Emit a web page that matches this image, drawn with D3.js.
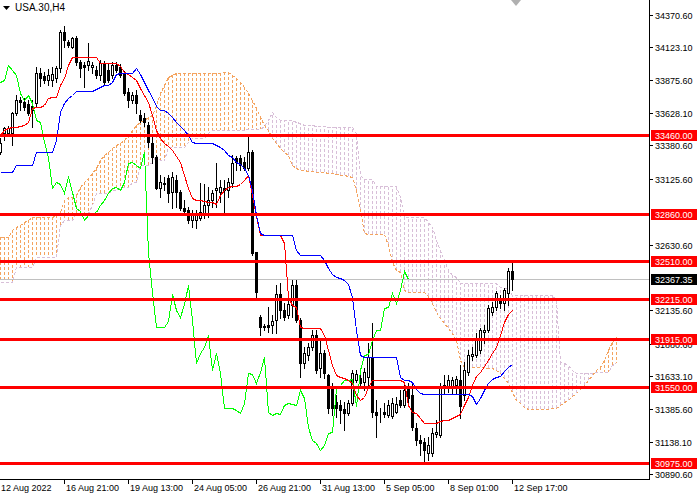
<!DOCTYPE html>
<html><head><meta charset="utf-8">
<script src="https://cdn.jsdelivr.net/npm/d3@7"></script>
<style>body{margin:0;background:#fff}svg{display:block}</style>
</head><body>
<svg id="c" width="700" height="500"></svg>
<script>
// ---------- DATA ----------
const symbolTitle = "USA.30,H4";
const dateLabels = ["12 Aug 2022","16 Aug 21:00","19 Aug 13:00","24 Aug 05:00","26 Aug 21:00","31 Aug 13:00","5 Sep 05:00","8 Sep 01:00","12 Sep 17:00"];
const dateLabelBars = [0,16,32,48,64,80,96,112,128];
const priceTicks = [34370.60,34123.10,33875.60,33628.10,33380.60,33125.60,32630.60,32135.60,31880.60,31633.10,31385.60,31138.10,30890.60];
const levels = [33460,32860,32510,32215,31915,31550,30975];
const lastPrice = 32367.35;

const open = [33332,33475,33475,33475,33626,33725,33710,33695,33680,33702,
33929,33907,33876,33876,33891,33967,34240,34164,34126,34194,
34013,33990,33990,33975,33952,33914,34005,33952,33914,33990,
33975,33929,33786,33725,33763,33611,33589,33536,33399,33294,
33059,33097,33135,33029,33119,33029,32907,32892,32817,32817,
32832,32854,32930,32968,33044,33029,33059,33044,33097,33286,
33286,33256,33210,33332,32574,32082,32014,32021,32021,32060,
32257,32135,32097,32173,32325,32060,31734,31795,31855,31946,
31696,31810,31643,31553,31439,31416,31386,31356,31431,31606,
31621,31591,31628,31780,31363,31356,31363,31341,31333,31363,
31454,31416,31545,31492,31242,31151,31136,31053,31053,31197,
31189,31545,31553,31560,31568,31606,31492,31666,31787,31795,
31833,31969,31984,32120,32158,32211,32188,32264,32431];
const high = [33437,33521,33529,33634,33763,33748,33740,33725,33725,33975,
33967,33937,33960,33975,33982,34255,34285,34179,34202,34209,
34028,34013,34156,34013,33982,34028,34020,34005,34013,34013,
33997,33945,33816,33786,33801,33649,33626,33559,33445,33309,
33157,33142,33157,33180,33157,33044,32968,32915,32892,32892,
33097,33089,33066,33044,33248,33119,33119,33135,33309,33301,
33309,33294,33453,33347,32574,32097,32029,32158,32097,32325,
32340,32188,32211,32362,32362,32075,31855,31886,31984,31984,
31908,31833,31651,31583,31492,31454,31439,31454,31681,31681,
31643,31696,31886,32037,31454,31394,31431,31454,31469,31477,
31530,31583,31583,31583,31280,31189,31166,31174,31242,31303,
31583,31643,31643,31628,31636,31719,31742,31833,31855,31961,
31999,32021,32173,32196,32279,32249,32302,32453,32505];
const low = [33317,33422,33453,33384,33611,33649,33649,33611,33521,33680,
33831,33854,33839,33831,33861,33937,34126,34126,34119,33990,
33899,33823,33952,33929,33891,33876,33846,33861,33891,33937,
33899,33763,33672,33702,33626,33559,33529,33369,33248,33051,
32991,33044,32953,32907,32915,32892,32877,32794,32764,32756,
32817,32832,32839,32915,32915,32953,32877,32991,33066,33195,
33195,33195,33195,32552,32234,31946,31984,31969,31961,31961,
32075,32060,32075,32082,32044,31628,31696,31757,31833,31658,
31628,31621,31356,31341,31326,31280,31227,31341,31416,31591,
31553,31530,31553,31326,31174,31288,31326,31326,31318,31356,
31401,31401,31431,31227,31114,31038,30977,31000,31030,31174,
31174,31507,31515,31507,31507,31318,31454,31643,31757,31780,
31810,31886,31969,32097,32135,32151,32135,32173,32287];
const close = [33399,33513,33513,33626,33725,33710,33672,33626,33649,33929,
33891,33876,33914,33922,33967,34240,34179,34141,34194,34013,
33967,33975,34020,33990,33914,34005,33861,33876,33990,33952,
33914,33778,33725,33763,33702,33574,33559,33407,33294,33059,
33104,33089,33021,33142,33029,32907,32885,32817,32854,32862,
32877,32930,32968,33021,33059,33066,33044,33104,33248,33256,
33233,33210,33332,32567,32272,32006,32006,32006,32052,32257,
32135,32082,32181,32325,32060,31734,31810,31855,31946,31681,
31810,31658,31394,31394,31394,31378,31356,31431,31658,31651,
31583,31666,31780,31363,31341,31352,31348,31416,31431,31424,
31416,31530,31469,31250,31151,31129,31076,31114,31204,31212,
31545,31568,31606,31606,31613,31409,31681,31795,31802,31908,
31984,31984,32151,32158,32264,32188,32287,32431,32367.35];

const tenkan = [33460,33498,33513,33521,33521,33529,33536,33559,33664,33672,
33672,33687,33740,33748,33748,33839,33891,33990,34050,34050,
34050,34050,34050,34050,34050,34005,34005,34005,34005,34005,
33982,33937,33922,33899,33876,33816,33763,33710,33611,33498,
33437,33399,33377,33347,33301,33256,33157,33059,32983,32968,
32968,32960,32953,32953,32938,33006,33044,33066,33074,33074,
33089,33119,33157,33006,32847,32703,32703,32703,32703,32703,
32703,32643,32234,32173,32158,32006,31999,31999,31999,31999,
31999,31946,31833,31719,31643,31628,31621,31606,31583,31492,
31454,31477,31553,31606,31606,31606,31606,31606,31606,31606,
31606,31591,31416,31363,31356,31318,31280,31280,31280,31280,
31295,31303,31303,31318,31333,31348,31416,31477,31568,31636,
31666,31711,31757,31810,31855,31946,32044,32105,32135];
const kijun = [33180,33180,33180,33180,33233,33233,33233,33233,33233,33332,
33332,33332,33332,33332,33422,33634,33702,33740,33763,33793,
33793,33793,33793,33793,33808,33823,33839,33839,33861,33922,
33929,33929,33929,33929,33967,33922,33861,33801,33748,33680,
33649,33649,33626,33596,33559,33529,33498,33460,33407,33399,
33399,33399,33399,33399,33384,33369,33347,33309,33294,33256,
33241,33210,33157,33044,32855,32718,32703,32703,32703,32703,
32703,32703,32703,32703,32589,32552,32552,32552,32552,32552,
32552,32514,32453,32408,32385,32378,32362,32332,32234,31984,
31795,31780,31780,31780,31780,31780,31780,31780,31780,31780,
31628,31606,31606,31591,31538,31507,31500,31500,31500,31500,
31500,31500,31500,31500,31500,31500,31500,31500,31485,31424,
31469,31530,31583,31613,31628,31636,31674,31704,31727];
const spanA = [32688,32688,32688,32741,32764,32779,32802,32817,32839,32839,
32839,32839,32839,32839,32854,32877,32968,32991,32991,33006,
33066,33104,33135,33172,33210,33271,33309,33332,33362,33384,
33399,33422,33460,33498,33536,33559,33574,33596,33611,33687,
33778,33839,33899,33914,33929,33929,33929,33929,33929,33929,
33929,33929,33929,33929,33929,33929,33937,33937,33914,33891,
33861,33823,33778,33725,33664,33596,33536,33498,33437,33399,
33362,33332,33309,33233,33210,33195,33195,33188,33188,33180,
33180,33180,33172,33172,33165,33157,33157,33150,33142,33044,
32892,32718,32711,32711,32711,32711,32711,32627,32499,32438,
32423,32287,32272,32272,32272,32272,32272,32241,32188,32120,
32075,32037,31999,31961,31908,31757,31704,31704,31704,31704,
31704,31704,31696,31696,31681,31658,31621,31583,31515,31454,
31431,31401,31386,31386,31386,31386,31386,31386,31394,31394,
31416,31439,31454,31484,31507,31537,31568,31606,31643,31681,
31704,31757,31833,31893,31931];
const spanB = [32347,32347,32347,32347,32461,32461,32461,32461,32461,32536,
32536,32536,32536,32536,32536,32779,32817,32817,32817,32872,
32872,32872,32872,32930,33021,33021,33021,33021,33044,33044,
33066,33066,33066,33104,33104,33233,33233,33233,33256,33309,
33271,33271,33369,33369,33369,33369,33369,33407,33437,33437,
33437,33437,33475,33498,33498,33498,33498,33498,33498,33498,
33498,33498,33506,33506,33506,33506,33529,33574,33634,33596,
33574,33574,33574,33574,33559,33551,33536,33536,33536,33529,
33529,33529,33521,33521,33521,33521,33521,33521,33521,33475,
33157,33127,33127,33127,33074,33074,33074,33074,33074,33074,
32991,32839,32839,32839,32839,32839,32839,32802,32764,32665,
32589,32514,32438,32400,32385,32340,32340,32340,32340,32340,
32340,32340,32340,32340,32340,32310,32302,32302,32249,32249,
32249,32249,32249,32249,32249,32249,32249,32249,32249,32211,
31742,31734,31719,31681,31658,31658,31658,31658,31658,31666,
31666,31666,31666,31719,31734];

// ---------- CHART ----------
const W = 700, H = 500, plotR = 649, plotB = 479;
const svg = d3.select("#c");
const x = d3.scaleLinear().domain([0, 1]).range([0.5, 4.5]);
const y = d3.scaleLinear().domain([30856.2, 34481.8]).range([plotB, 0]);
const ry = p => Math.round(y(p));
const font = "'Liberation Sans', Arial, sans-serif";

svg.append("rect").attr("width", W).attr("height", H).attr("fill", "#fff");
svg.append("defs").append("clipPath").attr("id", "clip")
  .append("rect").attr("x", 0).attr("y", 0).attr("width", plotR).attr("height", plotB);
const g = svg.append("g").attr("clip-path", "url(#clip)");

const SANDY = "#F4A460", THISTLE = "#D8BFD8";

// cloud hatch
const cloud = spanA.map((a, i) => ({i, a, b: spanB[i]}));
g.append("g").selectAll("line").data(cloud).join("line")
  .attr("x1", d => x(d.i)).attr("x2", d => x(d.i))
  .attr("y1", d => ry(d.a)).attr("y2", d => ry(d.b))
  .attr("stroke", d => d.a >= d.b ? SANDY : THISTLE)
  .attr("stroke-width", 1).attr("stroke-dasharray", "3,2")
  .attr("shape-rendering", "crispEdges");

const line = d3.line().x((d, i) => x(i)).y(d => ry(d) + 0.5);
g.append("path").datum(spanA).attr("d", line).attr("fill", "none")
  .attr("stroke", SANDY).attr("stroke-dasharray", "3,2").attr("shape-rendering", "crispEdges");
g.append("path").datum(spanB).attr("d", line).attr("fill", "none")
  .attr("stroke", THISTLE).attr("stroke-dasharray", "3,2").attr("shape-rendering", "crispEdges");

// current price line
g.append("line").attr("x1", 0).attr("x2", plotR).attr("y1", ry(lastPrice) + 0.5).attr("y2", ry(lastPrice) + 0.5)
  .attr("stroke", "#C0C0C0").attr("stroke-width", 1);

// candles
const bars = open.map((o, i) => ({i, o, h: high[i], l: low[i], c: close[i]}));
const cg = g.append("g").attr("shape-rendering", "crispEdges");
cg.selectAll("line").data(bars).join("line")
  .attr("x1", d => x(d.i)).attr("x2", d => x(d.i))
  .attr("y1", d => ry(d.h)).attr("y2", d => ry(d.l) + 1)
  .attr("stroke", "#000");
cg.selectAll("rect").data(bars).join("rect")
  .attr("x", d => x(d.i) - 1)
  .attr("y", d => ry(Math.max(d.o, d.c)) + 0.5)
  .attr("width", 2)
  .attr("height", d => Math.max(0, ry(Math.min(d.o, d.c)) - ry(Math.max(d.o, d.c))))
  .attr("fill", d => d.c >= d.o ? "#fff" : "#000")
  .attr("stroke", "#000");

// ichimoku lines
const chikou = close.slice(26);
[[chikou, "#00FF00"], [tenkan, "#FF0000"], [kijun, "#0000FF"]].forEach(([arr, col]) => {
  g.append("path").datum(arr).attr("d", line).attr("fill", "none")
    .attr("stroke", col).attr("stroke-width", 1).attr("shape-rendering", "crispEdges");
});

// horizontal levels
g.append("g").selectAll("line").data(levels).join("line")
  .attr("x1", 0).attr("x2", plotR).attr("y1", d => ry(d) + 0.5).attr("y2", d => ry(d) + 0.5)
  .attr("stroke", "#FF0000").attr("stroke-width", 3).attr("shape-rendering", "crispEdges");

// axes
const ax = svg.append("g").attr("shape-rendering", "crispEdges");
ax.append("line").attr("x1", plotR + 0.5).attr("x2", plotR + 0.5).attr("y1", 0).attr("y2", plotB + 1).attr("stroke", "#000");
ax.append("line").attr("x1", 0).attr("x2", plotR + 1).attr("y1", plotB + 0.5).attr("y2", plotB + 0.5).attr("stroke", "#000");

ax.selectAll(".pt").data(priceTicks).join("line").attr("class", "pt")
  .attr("x1", plotR + 1).attr("x2", plotR + 4).attr("y1", d => ry(d) + 0.5).attr("y2", d => ry(d) + 0.5).attr("stroke", "#000");
svg.append("g").selectAll("text").data(priceTicks).join("text")
  .attr("x", 655).attr("y", d => ry(d) + 3.5)
  .attr("font-family", font).attr("font-size", 9).attr("fill", "#000")
  .text(d => d.toFixed(2));

const dl = dateLabels.map((t, k) => ({t, i: dateLabelBars[k], k}));
ax.selectAll(".dt").data(dl.filter(d => d.k > 0)).join("line").attr("class", "dt")
  .attr("x1", d => x(d.i) - 0.5).attr("x2", d => x(d.i) - 0.5).attr("y1", plotB).attr("y2", plotB + 5).attr("stroke", "#000");
svg.append("g").selectAll("text").data(dl).join("text")
  .attr("x", d => d.k === 0 ? 1 : x(d.i) + 1.5).attr("y", 491)
  .attr("font-family", font).attr("font-size", 9).attr("fill", "#000")
  .text(d => d.t);

// level labels
const lab = svg.append("g");
levels.forEach(v => {
  lab.append("rect").attr("x", 651).attr("y", ry(v) - 5).attr("width", 46).attr("height", 11).attr("fill", "#FF0000");
  lab.append("text").attr("x", 655).attr("y", ry(v) + 4).attr("font-family", font).attr("font-size", 9)
    .attr("fill", "#fff").text(v.toFixed(2));
});
lab.append("rect").attr("x", 651).attr("y", ry(lastPrice) - 5).attr("width", 46).attr("height", 11).attr("fill", "#000");
lab.append("text").attr("x", 655).attr("y", ry(lastPrice) + 4).attr("font-family", font).attr("font-size", 9)
  .attr("fill", "#fff").text(lastPrice.toFixed(2));

// title & shift marker
svg.append("path").attr("d", "M3,6 L10,6 L6.5,10 Z").attr("fill", "#000");
svg.append("text").attr("x", 15).attr("y", 11).attr("font-family", font).attr("font-size", 10)
  .attr("fill", "#000").text(symbolTitle);
svg.append("path").attr("d", "M511,0 L521,0 L516,6 Z").attr("fill", "#B0B0B0");
</script>
</body></html>
